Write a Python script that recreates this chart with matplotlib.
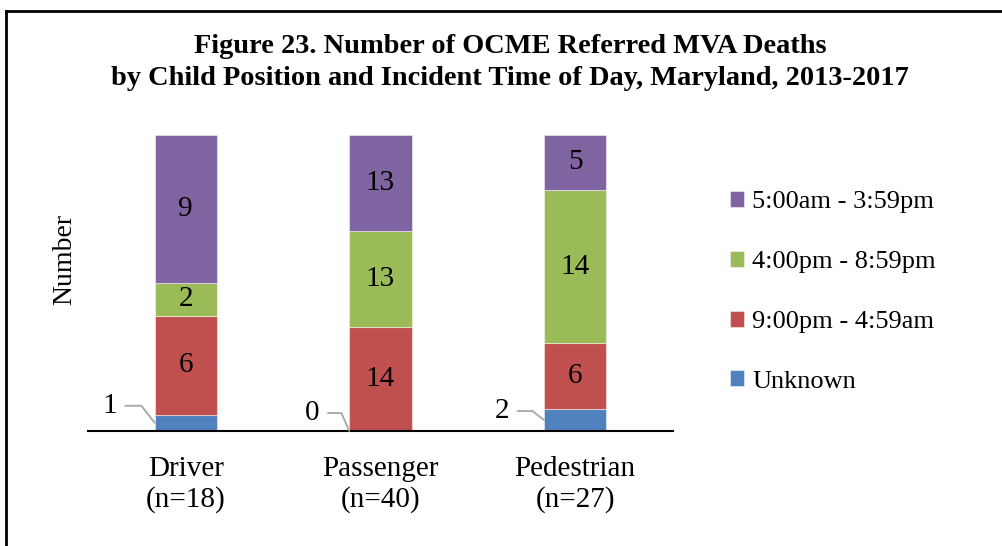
import matplotlib.pyplot as plt
from matplotlib.lines import Line2D

plt.rcParams['font.family'] = ['Liberation Serif', 'DejaVu Serif']

positions = ["Driver\n(n=18)", "Passenger\n(n=40)", "Pedestrian\n(n=27)"]
series = ["Unknown", "9:00pm - 4:59am", "4:00pm - 8:59pm", "5:00am - 3:59pm"]
unknown = [1, 0, 2]
night = [6, 14, 6]
evening = [2, 13, 14]
day = [9, 13, 5]
colors = ["#4F81BD", "#C0504D", "#9BBB59", "#8064A2"]

values = [unknown, night, evening, day]
totals = [sum(v) for v in zip(*values)]

fig = plt.figure(figsize=(10.03, 5.46), dpi=100)
ax = fig.add_axes([0.0882, 0.2106, 0.5823, 0.5421])

x = list(range(len(positions)))
width = 0.32
bottoms = [0.0] * len(positions)
bars = []
for vals, name, col in zip(values, series, colors):
    frac = [v / t for v, t in zip(vals, totals)]
    b = ax.bar(x, frac, width, bottom=bottoms, color=col, label=name,
               edgecolor=(1, 1, 1, 0.45), linewidth=0.8)
    bars.append((b, vals, frac, list(bottoms)))
    bottoms = [bo + f for bo, f in zip(bottoms, frac)]

# labels inside segments, small ones pulled out to the left with leader lines
# (text offset in pixels, angle of the diagonal)
callouts = {0: (-45, 17, -52), 1: (-37, 18, -66), 2: (-42, 9, -38)}
for si, (b, vals, frac, bots) in enumerate(bars):
    for i, (v, f, bo) in enumerate(zip(vals, frac, bots)):
        mid = bo + f / 2
        if si == 0:
            dx, dy, ang = callouts[i]
            ax.annotate(str(v), xy=(x[i] - width / 2, mid), xytext=(dx, dy),
                        textcoords='offset pixels', ha='center', va='center',
                        fontsize=21,
                        arrowprops=dict(arrowstyle='-', color='#A6A6A6', lw=1.3,
                                        shrinkA=4, shrinkB=0,
                                        connectionstyle=f'angle,angleA=0,angleB={ang},rad=0'))
        else:
            ax.text(x[i], mid, str(v), ha='center', va='center', fontsize=21)

ax.set_xlim(-0.5, 2.5)
ax.set_ylim(0, 1)
ax.set_xticks(x)
ax.set_xticklabels(positions, fontsize=21, linespacing=1.2)
ax.tick_params(axis='x', length=0, pad=18)
ax.set_yticks([])
for s in ['top', 'right', 'left']:
    ax.spines[s].set_visible(False)
ax.spines['bottom'].set_linewidth(1.5)
ax.set_ylabel("Number", fontsize=20)
ax.yaxis.set_label_coords(-0.019, 0.578)

handles, labels = ax.get_legend_handles_labels()
ax.legend(handles[::-1], labels[::-1], loc='center left', bbox_to_anchor=(1.057, 0.47),
          frameon=False, fontsize=19, handlelength=0.55, handleheight=0.55,
          handletextpad=0.3, labelspacing=1.42)

fig.text(0.5085, 0.885, "Figure 23. Number of OCME Referred MVA Deaths\n"
         "by Child Position and Incident Time of Day, Maryland, 2013-2017",
         ha='center', va='center', fontsize=20.4, fontweight='bold', linespacing=1.35)

# chart frame
fig.add_artist(Line2D([6 / 1003, 1], [1 - 11 / 546, 1 - 11 / 546], color='black', lw=2))
fig.add_artist(Line2D([6 / 1003, 6 / 1003], [0, 1 - 11 / 546], color='black', lw=2))

fig.savefig("out.png", dpi=100)
